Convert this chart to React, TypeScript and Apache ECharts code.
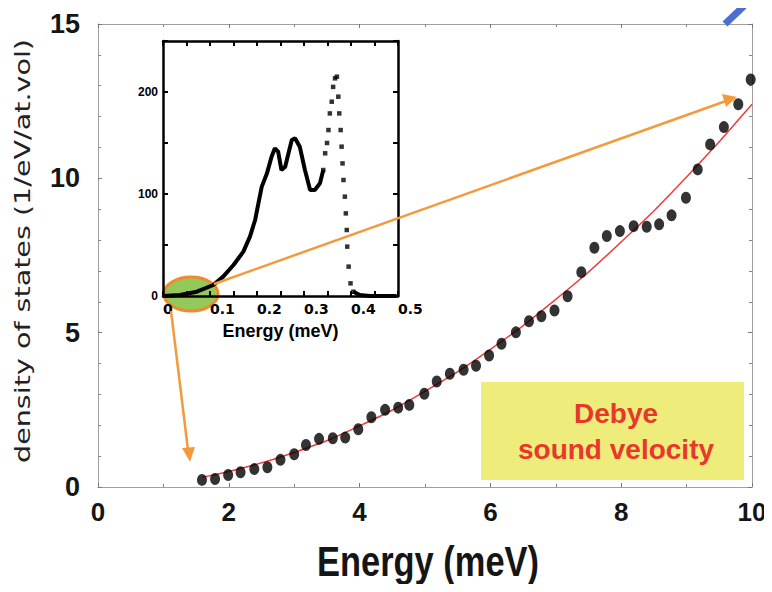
import React, { useEffect, useRef } from "react";
import * as echarts from "echarts";

// ---- main chart data (Energy in meV, DOS in 1/eV/at.vol) ----
const mainEnergy = [1.59, 1.79, 1.99, 2.18, 2.39, 2.59, 2.79, 3.0, 3.18, 3.38, 3.59, 3.78, 3.98, 4.18, 4.39, 4.59, 4.76, 4.99, 5.18, 5.38, 5.59, 5.78, 5.98, 6.17, 6.39, 6.59, 6.78, 6.98, 7.18, 7.39, 7.59, 7.78, 7.98, 8.19, 8.39, 8.58, 8.77, 8.99, 9.17, 9.36, 9.57, 9.79, 9.98];
const mainDos = [0.23, 0.26, 0.39, 0.48, 0.58, 0.64, 0.88, 1.06, 1.36, 1.56, 1.58, 1.6, 1.87, 2.26, 2.5, 2.57, 2.66, 3.02, 3.42, 3.67, 3.8, 3.93, 4.26, 4.64, 5.01, 5.37, 5.53, 5.72, 6.18, 6.96, 7.75, 8.13, 8.29, 8.45, 8.43, 8.51, 8.8, 9.37, 10.29, 11.1, 11.66, 12.4, 13.2];

// Debye fit curve (red)
const fitEnergy = [1.6, 2, 3, 4, 5, 6, 7, 8, 9, 10];
const fitDos = [0.32, 0.5, 1.12, 1.98, 3.1, 4.46, 6.08, 7.94, 10.04, 12.4];

const mainXTicks = [0, 2, 4, 6, 8, 10];
const mainYTicks = [0, 5, 10, 15];

// ---- inset data (phonon DOS) ----
const insetEnergy = [0, 3.6, 7.2, 10.7, 12.8, 15.0, 17.1, 18.5, 19.6, 20.3, 21.0, 22.1, 23.1, 23.8, 24.5, 25.2, 26.0, 26.7, 27.4, 28.1, 29.1, 30.2, 31.3, 32.3, 33.4, 34.1, 34.5, 34.9, 35.2, 35.5, 35.9, 36.2, 36.6, 37.0, 37.3, 37.5, 37.8, 38.0, 38.2, 38.4, 38.7, 38.9, 39.1, 39.2, 39.5, 39.9, 40.5, 41.9, 44.0, 49.7];
const insetDos = [0, 1, 4.2, 10.8, 19, 30.4, 43.5, 58.2, 74.5, 90.8, 107, 120, 136.6, 144.8, 141.5, 123.5, 126.8, 139.9, 153, 154.6, 146.4, 123.5, 104, 104, 110.5, 123.5, 139.9, 150, 162.7, 179, 190.5, 205, 213.4, 215, 195.4, 179, 162.7, 146.4, 130, 113.7, 97.4, 81, 64.7, 48.4, 28.8, 12.4, 4.2, 1, 0, 0];
const insetXTicks = ["0", "0.1", "0.2", "0.3", "0.4", "0.5"];
const insetYTicks = [0, 100, 200];

const FONT = "Liberation Sans";

export default function App() {
  const ref = useRef<HTMLDivElement>(null);
  useEffect(() => {
    if (!ref.current) return;
    const chart = echarts.init(ref.current, undefined, { renderer: "svg" });

    const mainPts = mainEnergy.map((x, i) => [x, mainDos[i]]);
    const fitPts = fitEnergy.map((x, i) => [x, fitDos[i]]);
    const densePts: any[] = [];
    const dotPts: any[] = [];
    insetEnergy.forEach((x, i) => {
      const p = [x, insetDos[i]];
      if (x <= 34.1) densePts.push(p);
      if (x >= 34.1 && x <= 40.5) dotPts.push(p);
    });
    const tailPts = insetEnergy.map((x, i) => [x, insetDos[i]]).filter((p) => p[0] >= 40.5);
    const lineData = [...densePts, [null, null], ...tailPts];

    const gray = "#a0a0a0";
    const mainAxisCommon = {
      axisLine: { show: true, onZero: false, lineStyle: { color: gray, width: 1 } },
      axisTick: { show: true, inside: true, length: 4, lineStyle: { color: "#777" } },
      splitLine: { show: false },
    };
    const insetAxisCommon = {
      axisLine: { show: true, onZero: false, lineStyle: { color: "#000", width: 2.5 } },
      axisTick: { show: true, inside: true, length: 5, lineStyle: { color: "#000", width: 2 } },
      splitLine: { show: false },
      z: 3,
    };

    chart.setOption({
      animation: false,
      backgroundColor: "#ffffff",
      textStyle: { fontFamily: FONT },
      grid: [
        { left: 98, right: 20, top: 24, bottom: 105 },
        { left: 163, right: 374, top: 41, bottom: 296 },
      ],
      xAxis: [
        {
          type: "value", gridIndex: 0, min: 0, max: 10, interval: 2, position: "bottom",
          ...mainAxisCommon,
          minorTick: { show: true, splitNumber: 2, length: 3, lineStyle: { color: "#888" } },
          axisLabel: {
            show: true, fontSize: 26, fontWeight: "bold", color: "#151515", margin: 12, fontFamily: FONT,
            formatter: (v: number) => (mainXTicks.includes(v) ? String(v) : ""),
          },
        },
        {
          type: "value", gridIndex: 0, min: 0, max: 10, interval: 2, position: "top",
          ...mainAxisCommon,
          minorTick: { show: true, splitNumber: 2, length: 3, lineStyle: { color: "#888" } },
          axisLabel: { show: false },
        },
        {
          type: "value", gridIndex: 1, min: 0, max: 50, interval: 5, position: "bottom",
          ...insetAxisCommon,
          axisLabel: {
            show: true, fontSize: 14, fontWeight: "bold", color: "#000", margin: 6, align: "left",
            fontFamily: "DejaVu Sans",
            formatter: (v: number) => (v % 10 === 0 ? insetXTicks[v / 10] : ""),
          },
          name: "Energy (meV)", nameLocation: "middle", nameGap: 26,
          nameTextStyle: { fontSize: 18, fontWeight: "bold", color: "#000", fontFamily: FONT },
        },
        {
          type: "value", gridIndex: 1, min: 0, max: 50, interval: 5, position: "top",
          ...insetAxisCommon,
          axisLabel: { show: false },
        },
      ],
      yAxis: [
        {
          type: "value", gridIndex: 0, min: 0, max: 15, interval: 5, position: "left",
          ...mainAxisCommon,
          minorTick: { show: true, splitNumber: 5, length: 3, lineStyle: { color: "#888" } },
          axisLabel: {
            show: true, fontSize: 27, fontWeight: "bold", color: "#151515", margin: 18, fontFamily: FONT,
            formatter: (v: number) => (mainYTicks.includes(v) ? String(v) : ""),
          },
        },
        {
          type: "value", gridIndex: 0, min: 0, max: 15, interval: 5, position: "right",
          ...mainAxisCommon,
          minorTick: { show: true, splitNumber: 5, length: 3, lineStyle: { color: "#888" } },
          axisLabel: { show: false },
        },
        {
          type: "value", gridIndex: 1, min: 0, max: 250, interval: 50, position: "left",
          ...insetAxisCommon,
          axisLabel: {
            show: true, fontSize: 12, fontWeight: "bold", color: "#000", margin: 5, fontFamily: FONT,
            formatter: (v: number) => (insetYTicks.includes(v) ? String(v) : ""),
          },
        },
        {
          type: "value", gridIndex: 1, min: 0, max: 250, interval: 50, position: "right",
          ...insetAxisCommon,
          axisLabel: { show: false },
        },
      ],
      series: [
        {
          type: "line", xAxisIndex: 0, yAxisIndex: 0, data: fitPts, smooth: true,
          showSymbol: false, lineStyle: { color: "#ee3b3b", width: 1.5 }, z: 2,
        },
        {
          type: "scatter", xAxisIndex: 0, yAxisIndex: 0, data: mainPts,
          symbol: "circle", symbolSize: [10, 12], itemStyle: { color: "#000" }, z: 3,
        },
        {
          type: "line", xAxisIndex: 2, yAxisIndex: 2, data: lineData, connectNulls: false,
          showSymbol: false, lineStyle: { color: "#000", width: 4 }, z: 4,
        },
        {
          type: "scatter", xAxisIndex: 2, yAxisIndex: 2, data: dotPts,
          symbol: "rect", symbolSize: 4.5, itemStyle: { color: "#000" }, z: 4,
        },
      ],
      graphic: [
        {
          type: "text", x: 22, y: 251, rotation: Math.PI / 2, scaleX: 1.3, z: 5,
          style: {
            text: "density of states (1/eV/at.vol)", fontSize: 22, fontFamily: "DejaVu Sans",
            fill: "#222", align: "center", verticalAlign: "middle",
          },
        },
        {
          type: "text", x: 428, y: 561, scaleX: 0.82, z: 5,
          style: {
            text: "Energy (meV)", fontSize: 42, fontWeight: "bold", fontFamily: FONT,
            fill: "#151515", align: "center", verticalAlign: "middle",
          },
        },
        {
          type: "ellipse", z: 1,
          shape: { cx: 191, cy: 294, rx: 27, ry: 17 },
          style: { fill: "#93c95b", stroke: "#f08a2c", lineWidth: 3 },
        },
        {
          type: "line", z: 10,
          shape: { x1: 214, y1: 284, x2: 726, y2: 101 },
          style: { stroke: "#f39a3c", lineWidth: 2.5 },
        },
        {
          type: "polygon", z: 10,
          shape: { points: [[737, 97], [722, 94], [726, 107]] },
          style: { fill: "#f39a3c" },
        },
        {
          type: "line", z: 10,
          shape: { x1: 171, y1: 311, x2: 188, y2: 450 },
          style: { stroke: "#f39a3c", lineWidth: 2.5 },
        },
        {
          type: "polygon", z: 10,
          shape: { points: [[190, 462], [182, 448], [195, 447]] },
          style: { fill: "#f39a3c" },
        },
        {
          type: "rect", z: 6,
          shape: { x: 481, y: 382, width: 263, height: 98 },
          style: { fill: "#eeed7c" },
        },
        {
          type: "text", x: 616, y: 413, z: 7,
          style: {
            text: "Debye", fontSize: 28, fontWeight: "bold", fontFamily: FONT,
            fill: "#e8372b", align: "center", verticalAlign: "middle",
          },
        },
        {
          type: "text", x: 616, y: 449, z: 7,
          style: {
            text: "sound velocity", fontSize: 28, fontWeight: "bold", fontFamily: FONT,
            fill: "#e8372b", align: "center", verticalAlign: "middle",
          },
        },
        {
          type: "line", z: 10,
          shape: { x1: 725, y1: 24, x2: 744, y2: 6 },
          style: { stroke: "#4a6fd0", lineWidth: 7 },
        },
      ],
    });
    return () => chart.dispose();
  }, []);

  return <div ref={ref} style={{ width: 772, height: 592, margin: -8 }} />;
}
